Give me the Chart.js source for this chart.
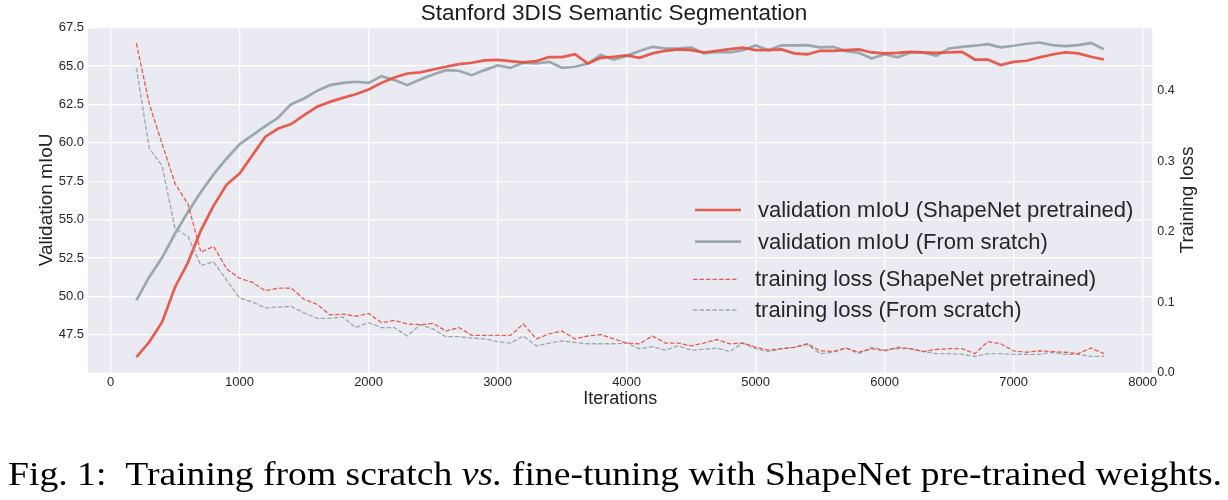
<!DOCTYPE html>
<html>
<head>
<meta charset="utf-8">
<script src="https://cdn.jsdelivr.net/npm/chart.js@4.4.1/dist/chart.umd.min.js"></script>
<style>
  html, body { margin: 0; padding: 0; background: #fff; }
  #wrap { width: 1228px; height: 500px; }
</style>
</head>
<body>
<div id="wrap"><canvas id="trainingChart" width="1228" height="500"></canvas></div>
<script>
const iterations = [200, 300, 400, 500, 600, 700, 800, 900, 1000, 1100, 1200, 1300, 1400, 1500, 1600, 1700, 1800, 1900,
    2000, 2100, 2200, 2300, 2400, 2500, 2600, 2700, 2800, 2900, 3000, 3100, 3200, 3300, 3400, 3500, 3600, 3700, 3800,
    3900, 4000, 4100, 4200, 4300, 4400, 4500, 4600, 4700, 4800, 4900, 5000, 5100, 5200, 5300, 5400, 5500, 5600, 5700, 5800,
    5900, 6000, 6100, 6200, 6300, 6400, 6500, 6600, 6700, 6800, 6900, 7000, 7100, 7200, 7300, 7400, 7500, 7600, 7700];

const miouPretrained = [46.04, 47.02, 48.33, 50.61, 52.2, 54.3, 55.93, 57.28, 58.0, 59.2, 60.4, 60.93, 61.22, 61.8, 62.35, 62.67, 62.93, 63.17,
    63.48, 63.91, 64.26, 64.52, 64.59, 64.78, 64.96, 65.13, 65.22, 65.37, 65.41, 65.33, 65.24, 65.33, 65.59, 65.59, 65.78, 65.17, 65.54,
    65.61, 65.70, 65.54, 65.83, 66.0, 66.09, 66.04, 65.89, 66.0, 66.11, 66.2, 66.04, 66.04, 66.09, 65.83, 65.76, 66.0, 66.0, 66.04, 66.09,
    65.89, 65.83, 65.87, 65.93, 65.89, 65.87, 65.89, 65.93, 65.43, 65.43, 65.07, 65.28, 65.35, 65.57, 65.76, 65.89, 65.83, 65.61, 65.43];

const miouScratch = [49.74, 51.26, 52.52, 54.09, 55.5, 56.8, 57.96, 58.98, 59.91, 60.5, 61.09, 61.65, 62.52, 62.89, 63.39, 63.76, 63.91, 63.98,
    63.91, 64.35, 64.09, 63.76, 64.13, 64.46, 64.74, 64.70, 64.41, 64.74, 65.04, 64.89, 65.22, 65.17, 65.28, 64.89, 64.96, 65.17, 65.72,
    65.43, 65.67, 65.98, 66.26, 66.15, 66.15, 66.22, 65.83, 65.93, 65.89, 66.04, 66.35, 66.04, 66.35, 66.35, 66.37, 66.22, 66.26, 65.98, 65.87,
    65.5, 65.78, 65.57, 65.89, 65.89, 65.67, 66.15, 66.26, 66.33, 66.43, 66.22, 66.33, 66.46, 66.54, 66.37, 66.3, 66.37, 66.52, 66.09];

const lossPretrained = [0.467, 0.381, 0.324, 0.268, 0.239, 0.171, 0.179, 0.147, 0.134, 0.128, 0.116, 0.120, 0.120, 0.104, 0.097, 0.082, 0.083, 0.080,
    0.084, 0.071, 0.074, 0.069, 0.068, 0.070, 0.059, 0.064, 0.053, 0.053, 0.053, 0.053, 0.069, 0.048, 0.055, 0.059, 0.048, 0.052, 0.054,
    0.048, 0.042, 0.041, 0.052, 0.042, 0.042, 0.038, 0.042, 0.047, 0.041, 0.042, 0.036, 0.032, 0.034, 0.036, 0.041, 0.031, 0.030, 0.035, 0.029,
    0.034, 0.031, 0.036, 0.034, 0.030, 0.033, 0.034, 0.034, 0.027, 0.044, 0.041, 0.031, 0.029, 0.031, 0.030, 0.029, 0.027, 0.035, 0.027];

const lossScratch = [0.432, 0.318, 0.293, 0.204, 0.193, 0.152, 0.157, 0.131, 0.106, 0.100, 0.092, 0.093, 0.094, 0.085, 0.077, 0.077, 0.079, 0.064,
    0.071, 0.064, 0.064, 0.052, 0.068, 0.062, 0.051, 0.051, 0.049, 0.048, 0.044, 0.042, 0.052, 0.038, 0.042, 0.045, 0.043, 0.041, 0.041,
    0.041, 0.042, 0.034, 0.037, 0.032, 0.038, 0.032, 0.033, 0.035, 0.030, 0.042, 0.034, 0.030, 0.034, 0.036, 0.040, 0.027, 0.029, 0.035, 0.027,
    0.036, 0.032, 0.034, 0.034, 0.030, 0.027, 0.027, 0.026, 0.023, 0.027, 0.027, 0.026, 0.026, 0.026, 0.029, 0.026, 0.026, 0.023, 0.023];

const xTicks = [0, 1000, 2000, 3000, 4000, 5000, 6000, 7000, 8000];
const miouTicks = [47.5, 50.0, 52.5, 55.0, 57.5, 60.0, 62.5, 65.0, 67.5];
const lossTicks = [0.0, 0.1, 0.2, 0.3, 0.4];

const RED = 'rgba(231, 76, 60, 0.9)';
const GREY = 'rgba(149, 165, 166, 0.95)';
const FONT = "'Liberation Sans', Arial, sans-serif";
const TEXT = '#262626';

function toPoints(values) {
    return iterations.map((it, i) => ({ x: it, y: values[i] }));
}

// seaborn style grey plot area
const plotBackground = {
    id: 'plotBackground',
    beforeDraw(chart) {
        const { ctx, chartArea: a } = chart;
        ctx.save();
        ctx.fillStyle = '#eaeaf2';
        ctx.fillRect(a.left, a.top, a.right - a.left, a.bottom - a.top);
        ctx.restore();
    }
};

// legend boxes, right axis label (reads upward like the left one) and the figure caption
const extraText = {
    id: 'extraText',
    afterDraw(chart) {
        const ctx = chart.ctx;
        const rows = [
            { ds: 0, x0: 695, x1: 741, y: 210, tx: 758 },
            { ds: 1, x0: 695, x1: 741, y: 241.7, tx: 758 },
            { ds: 2, x0: 693, x1: 737, y: 279.3, tx: 755 },
            { ds: 3, x0: 693, x1: 737, y: 310, tx: 755 }
        ];
        ctx.save();
        rows.forEach(r => {
            const ds = chart.data.datasets[r.ds];
            ctx.beginPath();
            ctx.strokeStyle = ds.borderColor;
            ctx.lineWidth = ds.borderWidth;
            ctx.setLineDash(ds.borderDash || []);
            ctx.moveTo(r.x0, r.y);
            ctx.lineTo(r.x1, r.y);
            ctx.stroke();
            ctx.setLineDash([]);
            ctx.fillStyle = TEXT;
            ctx.font = '22px ' + FONT;
            ctx.textBaseline = 'middle';
            ctx.textAlign = 'left';
            ctx.fillText(ds.label, r.tx, r.y + 1);
        });

        ctx.translate(1188, 200);
        ctx.rotate(-Math.PI / 2);
        ctx.textAlign = 'center';
        ctx.textBaseline = 'middle';
        ctx.font = '19px ' + FONT;
        ctx.fillStyle = '#222';
        ctx.fillText('Training loss', 0, 0);
        ctx.restore();

        // caption
        const parts = [
            ['Fig. 1:  Training from scratch ', 'normal'],
            ['vs.', 'italic'],
            [' fine-tuning with ShapeNet pre-trained weights.', 'normal']
        ];
        ctx.save();
        ctx.fillStyle = '#000';
        ctx.textBaseline = 'alphabetic';
        ctx.textAlign = 'left';
        let total = 0;
        parts.forEach(p => {
            ctx.font = p[1] + " 34px 'Liberation Serif', 'DejaVu Serif', serif";
            total += ctx.measureText(p[0]).width;
        });
        ctx.translate(8, 485);
        ctx.scale(1214 / total, 1);
        let x = 0;
        parts.forEach(p => {
            ctx.font = p[1] + " 34px 'Liberation Serif', 'DejaVu Serif', serif";
            ctx.fillText(p[0], x, 0);
            x += ctx.measureText(p[0]).width;
        });
        ctx.restore();
    }
};

const ctx = document.getElementById('trainingChart').getContext('2d');

new Chart(ctx, {
    type: 'line',
    data: {
        datasets: [{
            label: 'validation mIoU (ShapeNet pretrained)',
            data: toPoints(miouPretrained),
            yAxisID: 'yMiou',
            borderColor: RED,
            borderWidth: 2.7,
            order: 1
        }, {
            label: 'validation mIoU (From sratch)',
            data: toPoints(miouScratch),
            yAxisID: 'yMiou',
            borderColor: GREY,
            borderWidth: 2.7,
            order: 1
        }, {
            label: 'training loss (ShapeNet pretrained)',
            data: toPoints(lossPretrained),
            yAxisID: 'yLoss',
            borderColor: RED,
            borderWidth: 1.3,
            borderDash: [4.5, 2],
            order: 0
        }, {
            label: 'training loss (From scratch)',
            data: toPoints(lossScratch),
            yAxisID: 'yLoss',
            borderColor: GREY,
            borderWidth: 1.3,
            borderDash: [4.5, 2],
            order: 0
        }]
    },
    options: {
        responsive: false,
        animation: false,
        devicePixelRatio: 1,
        elements: {
            point: { radius: 0 },
            line: { tension: 0, fill: false }
        },
        layout: { padding: { left: 0, right: 0, top: 0, bottom: 90 } },
        plugins: {
            legend: { display: false },
            tooltip: { enabled: false },
            title: {
                display: true,
                text: 'Stanford 3DIS Semantic Segmentation',
                color: '#1a1a1a',
                font: { family: FONT, size: 22.5, weight: 'normal' },
                padding: { top: 0, bottom: 0 }
            }
        },
        scales: {
            x: {
                type: 'linear',
                min: -175,
                max: 8075,
                afterBuildTicks: s => { s.ticks = xTicks.map(v => ({ value: v })); },
                afterFit: s => { s.height = 37.3; },
                grid: { color: '#ffffff', lineWidth: 1.3, drawTicks: false },
                border: { display: false },
                ticks: {
                    padding: 2,
                    color: TEXT,
                    autoSkip: false,
                    maxRotation: 0,
                    font: { family: FONT, size: 13 },
                    callback: v => String(v)
                },
                title: {
                    display: true,
                    text: 'Iterations',
                    color: '#222',
                    font: { family: FONT, size: 18 },
                    padding: 0
                }
            },
            yMiou: {
                type: 'linear',
                position: 'left',
                min: 45.02,
                max: 67.55,
                afterBuildTicks: s => { s.ticks = miouTicks.map(v => ({ value: v })); },
                afterFit: s => { s.width = 88; },
                grid: { color: '#ffffff', lineWidth: 1.3, drawTicks: false },
                border: { display: false },
                ticks: {
                    padding: 4,
                    color: TEXT,
                    font: { family: FONT, size: 13 },
                    callback: v => v.toFixed(1)
                },
                title: {
                    display: true,
                    text: 'Validation mIoU',
                    color: '#222',
                    font: { family: FONT, size: 19 },
                    padding: { top: 35, bottom: 0 }
                }
            },
            yLoss: {
                type: 'linear',
                position: 'right',
                min: 0,
                max: 0.49,
                afterBuildTicks: s => { s.ticks = lossTicks.map(v => ({ value: v })); },
                afterFit: s => { s.width = 75.7; },
                grid: { display: false, drawTicks: false },
                border: { display: false },
                ticks: {
                    padding: 5,
                    color: TEXT,
                    font: { family: FONT, size: 12.5 },
                    callback: v => v.toFixed(1)
                },
                title: { display: false }
            }
        }
    },
    plugins: [plotBackground, extraText]
});
</script>
</body>
</html>
